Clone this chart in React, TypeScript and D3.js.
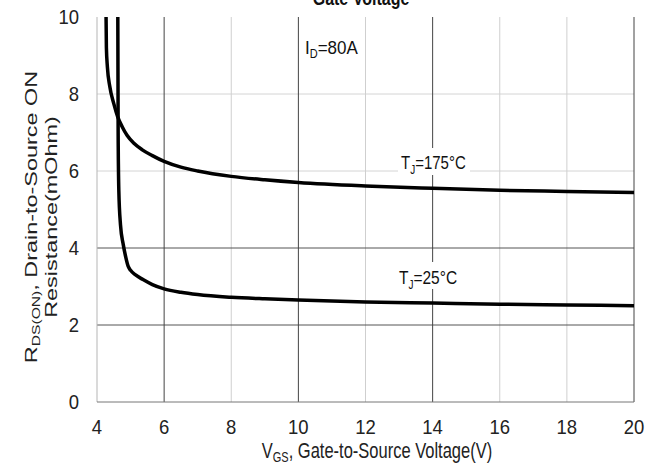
import React from "react";
import * as d3 from "d3";

const xTicks = [4, 6, 8, 10, 12, 14, 16, 18, 20];
const yTicks = [0, 2, 4, 6, 8, 10];
const darkX = [6, 10, 14, 20];
const lightX = [8, 12, 16, 18];
const darkY = [2, 4];
const lightY = [6, 8];

const vgs175 = [4.27, 4.28, 4.31, 4.38, 4.5, 4.62, 4.75, 4.9, 5.1, 5.35, 5.65, 6, 6.5, 7, 8, 9, 10, 12, 14, 16, 18, 20];
const r175 = [10, 9.2, 8.7, 8.2, 7.75, 7.4, 7.15, 6.92, 6.72, 6.55, 6.4, 6.25, 6.1, 6.0, 5.86, 5.77, 5.7, 5.61, 5.55, 5.5, 5.47, 5.44];

const vgs25 = [4.62, 4.63, 4.65, 4.7, 4.78, 4.86, 4.93, 5.0, 5.15, 5.37, 5.65, 6, 6.5, 7, 8, 9, 10, 12, 14, 16, 18, 20];
const r25 = [10, 7.0, 5.5, 4.6, 4.1, 3.75, 3.52, 3.42, 3.3, 3.18, 3.05, 2.94, 2.85, 2.79, 2.72, 2.68, 2.65, 2.6, 2.57, 2.54, 2.52, 2.5];

const W = 662, H = 473;
const L = 97, R = 634, T = 17, B = 402;
const FONT = "'Liberation Sans', Arial, sans-serif";

export default function App() {
  const x = d3.scaleLinear().domain([4, 20]).range([L, R]);
  const y = d3.scaleLinear().domain([0, 10]).range([B, T]);
  const line = d3.line<[number, number]>().x(d => x(d[0])).y(d => y(d[1])).curve(d3.curveMonotoneX);
  const pts175: [number, number][] = vgs175.map((v, i) => [v, r175[i]]);
  const pts25: [number, number][] = vgs25.map((v, i) => [v, r25[i]]);

  return (
    <svg width={W} height={H} style={{ position: "absolute", left: 0, top: 0, background: "#fff" }} fontFamily={FONT}>
      <rect x={0} y={0} width={W} height={H} fill="#fff" />
      {/* title (clipped at top, as in the source) */}
      <g transform="translate(361,5) scale(1,1.25)">
        <text x={0} y={0} textAnchor="middle" fontSize={16} fontWeight="bold" fill="#111">Gate Voltage</text>
      </g>
      {/* grid */}
      {lightY.map(v => <line key={"ly" + v} x1={L} x2={R} y1={y(v)} y2={y(v)} stroke="#d4d4d4" strokeWidth={1} />)}
      {lightX.map(v => <line key={"lx" + v} x1={x(v)} x2={x(v)} y1={T} y2={B} stroke="#cfcfcf" strokeWidth={1} />)}
      {darkY.map(v => <line key={"dy" + v} x1={L} x2={R} y1={y(v)} y2={y(v)} stroke="#555" strokeWidth={1} />)}
      {darkX.map(v => <line key={"dx" + v} x1={x(v)} x2={x(v)} y1={T} y2={B} stroke="#444" strokeWidth={1} />)}
      <line x1={L} x2={L} y1={T} y2={B} stroke="#b5b5b5" strokeWidth={1} />
      <line x1={L} x2={R} y1={B} y2={B} stroke="#777" strokeWidth={1} />

      {/* labels with white backgrounds */}
      <rect x={301} y={32} width={60} height={28} fill="#fff" />
      <g transform="translate(305,54) scale(1,1.1)">
        <text x={0} y={0} fontSize={17} fill="#111">I<tspan fontSize={11} dy={4}>D</tspan><tspan dy={-4}>=80A</tspan></text>
      </g>

      <rect x={398} y={148} width={72} height={27} fill="#fff" />
      <g transform="translate(401,169) scale(1,1.2)">
        <text x={0} y={0} fontSize={15} fill="#111">T<tspan fontSize={10} dy={4}>J</tspan><tspan dy={-4}>=175°C</tspan></text>
      </g>

      <rect x={396} y={262} width={70} height={27} fill="#fff" />
      <g transform="translate(399,284) scale(1,1.2)">
        <text x={0} y={0} fontSize={15.5} fill="#111">T<tspan fontSize={10} dy={4}>J</tspan><tspan dy={-4}>=25°C</tspan></text>
      </g>

      {/* curves */}
      <path d={line(pts175) || ""} fill="none" stroke="#000" strokeWidth={3.5} />
      <path d={line(pts25) || ""} fill="none" stroke="#000" strokeWidth={3.5} />

      {/* tick labels */}
      {xTicks.map(v => (
        <g key={"xt" + v} transform={`translate(${x(v)},434) scale(1,1.12)`}>
          <text x={0} y={0} textAnchor="middle" fontSize={18.5} fill="#222">{v}</text>
        </g>
      ))}
      {yTicks.map(v => (
        <g key={"yt" + v} transform={`translate(79,${y(v) + 7}) scale(1,1.12)`}>
          <text x={0} y={0} textAnchor="end" fontSize={18.5} fill="#222">{v}</text>
        </g>
      ))}

      {/* axis titles */}
      <g transform="translate(377,458) scale(1,1.3)">
        <text x={0} y={0} textAnchor="middle" fontSize={16.5} fill="#222">V<tspan fontSize={11} dy={3}>GS</tspan><tspan dy={-3}>, Gate-to-Source Voltage(V)</tspan></text>
      </g>
      <g transform="translate(37,217) rotate(-90) scale(1.42,1)">
        <text x={0} y={0} textAnchor="middle" fontSize={16.5} fill="#222">R<tspan fontSize={11} dy={3}>DS(ON)</tspan><tspan dy={-3}>, Drain-to-Source ON</tspan></text>
        <text x={0} y={20} textAnchor="middle" fontSize={16.5} fill="#222">Resistance(mOhm)</text>
      </g>
    </svg>
  );
}
